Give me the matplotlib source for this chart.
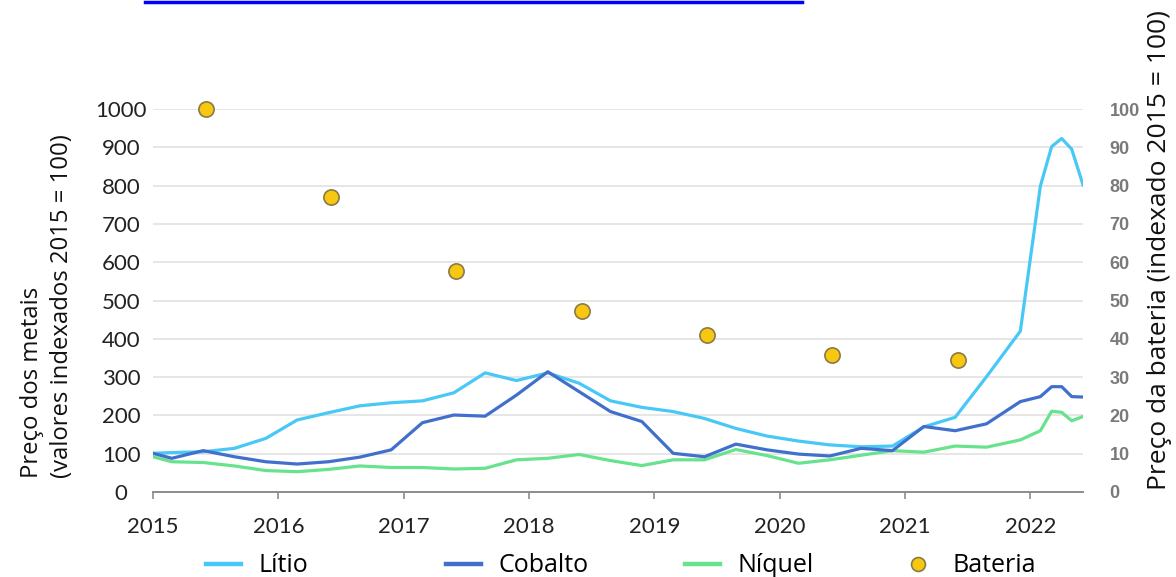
import matplotlib
matplotlib.use("Agg")
import matplotlib.pyplot as plt
from matplotlib.lines import Line2D
import numpy as np

# ---------------- data ----------------
t_quarter = [2015.0, 2015.15, 2015.4, 2015.65, 2015.9,
             2016.15, 2016.4, 2016.65, 2016.9,
             2017.15, 2017.4, 2017.65, 2017.9,
             2018.15, 2018.4, 2018.65, 2018.9,
             2019.15, 2019.4, 2019.65, 2019.9,
             2020.15, 2020.4, 2020.65, 2020.9,
             2021.15, 2021.4, 2021.65, 2021.92,
             2022.08, 2022.17, 2022.25, 2022.33, 2022.42]

litio = [101, 103, 105, 114, 140,
         188, 207, 225, 233,
         238, 259, 311, 291,
         311, 284, 238, 221,
         210, 192, 166, 146,
         133, 123, 118, 120,
         170, 195, 301, 420,
         799, 902, 923, 895, 802]

cobalto = [101, 88, 108, 92, 79,
           73, 79, 91, 110,
           181, 201, 198, 253,
           314, 262, 210, 184,
           101, 92, 125, 110,
           99, 94, 114, 108,
           171, 160, 178, 236,
           249, 275, 275, 249, 248]

niquel = [92, 79, 77, 68, 56,
          53, 59, 68, 64,
          64, 60, 62, 84,
          88, 98, 82, 69,
          84, 84, 111, 95,
          75, 84, 96, 108,
          104, 120, 117, 136,
          160, 211, 208, 186, 197]

t_bateria = [2015.42, 2016.42, 2017.42, 2018.42, 2019.42, 2020.42, 2021.42]
bateria = [100, 77, 57.7, 47.3, 41, 35.8, 34.5]

year_ticks = [2015, 2016, 2017, 2018, 2019, 2020, 2021, 2022]
left_ticks = [0, 100, 200, 300, 400, 500, 600, 700, 800, 900, 1000]
right_ticks = [0, 10, 20, 30, 40, 50, 60, 70, 80, 90, 100]

series_names = ["Lítio", "Cobalto", "Níquel", "Bateria"]
c_litio = "#48C8F6"
c_cobalto = "#4070CC"
c_niquel = "#66E38C"
c_bat = "#F7C711"
c_bat_edge = "#8A7A45"

# ---------------- figure ----------------
W, H = 1176, 577
fig = plt.figure(figsize=(W / 100, H / 100), dpi=100)

def fx(px):
    return px / W

def fy(py):
    return 1 - py / H

ax_left, ax_right, ax_top, ax_bot = 153, 1083, 109, 492
ax = fig.add_axes([fx(ax_left), fy(ax_bot), fx(ax_right - ax_left), (ax_bot - ax_top) / H])
ax.set_xlim(2015.0, 2022.42)
ax.set_ylim(0, 1000)

lw = 2.3
ax.plot(t_quarter, litio, color=c_litio, lw=lw, zorder=3)
ax.plot(t_quarter, cobalto, color=c_cobalto, lw=lw, zorder=4)
ax.plot(t_quarter, niquel, color=c_niquel, lw=lw, zorder=2)

ax.grid(axis="y", color="#E6E6E6", lw=1.4, zorder=0)
ax.set_axisbelow(True)
for s in ["left", "right", "top"]:
    ax.spines[s].set_visible(False)
ax.spines["bottom"].set_color("#8C8C8C")
ax.spines["bottom"].set_linewidth(1.4)
ax.set_xticks(year_ticks)
ax.set_xticklabels([str(y) for y in year_ticks], family="Lato", fontsize=16, color="#222222")
ax.tick_params(axis="x", direction="out", length=5, width=1.2, color="#8C8C8C", pad=13)

ax2 = ax.twinx()
ax2.set_ylim(0, 100)
ax2.set_yticks(right_ticks)
for s in ["left", "right", "top", "bottom"]:
    ax2.spines[s].set_visible(False)
ax2.tick_params(axis="y", length=0, pad=19, labelsize=13, labelcolor="#7A7A7A")
for lab in ax2.get_yticklabels():
    lab.set_family("Liberation Sans")
    lab.set_fontweight("bold")
ax2.scatter(t_bateria, bateria, s=120, color=c_bat, edgecolor=c_bat_edge, linewidth=1.2,
            zorder=5, clip_on=False)

# left ticks: centred labels, set after twinx so nothing resets them
ax.tick_params(axis="y", length=0, pad=23)
ax.set_yticks(left_ticks)
ax.set_yticklabels([str(v) for v in left_ticks], family="Lato", fontsize=16,
                   color="#222222", ha="center")

# axis titles
fig.text(fx(47), fy(478), "Preço dos metais\n(valores indexados 2015 = 100)",
         rotation=90, ha="center", va="bottom", multialignment="left",
         family="Open Sans", fontsize=17.2, color="#111111", linespacing=1.3)
fig.text(fx(1160), fy(490), "Preço da bateria (indexado 2015 = 100)",
         rotation=90, ha="center", va="bottom",
         family="Open Sans", fontsize=19, color="#111111")

# legend (one entry per box, placed along the bottom)
handles = [
    Line2D([], [], color=c_litio, lw=3.2),
    Line2D([], [], color=c_cobalto, lw=3.2),
    Line2D([], [], color=c_niquel, lw=3.2),
    Line2D([], [], linestyle="none", marker="o", markersize=10,
           markerfacecolor=c_bat, markeredgecolor=c_bat_edge, markeredgewidth=1.2),
]
leg_x = [206, 446, 685, 900]
for h, name, x in zip(handles, series_names, leg_x):
    fig.legend([h], [name], loc="center left", bbox_to_anchor=(fx(x), fy(566)),
               frameon=False, handlelength=1.4, handletextpad=0.7,
               prop={"family": "Open Sans", "size": 18}, borderaxespad=0, borderpad=0)

# cut-off hyperlink underline at the very top
fig.add_artist(Line2D([fx(145), fx(802)], [fy(1.5), fy(1.5)], color="#0000FF", lw=2.5,
                      transform=fig.transFigure))

fig.savefig("out.png", dpi=100)
